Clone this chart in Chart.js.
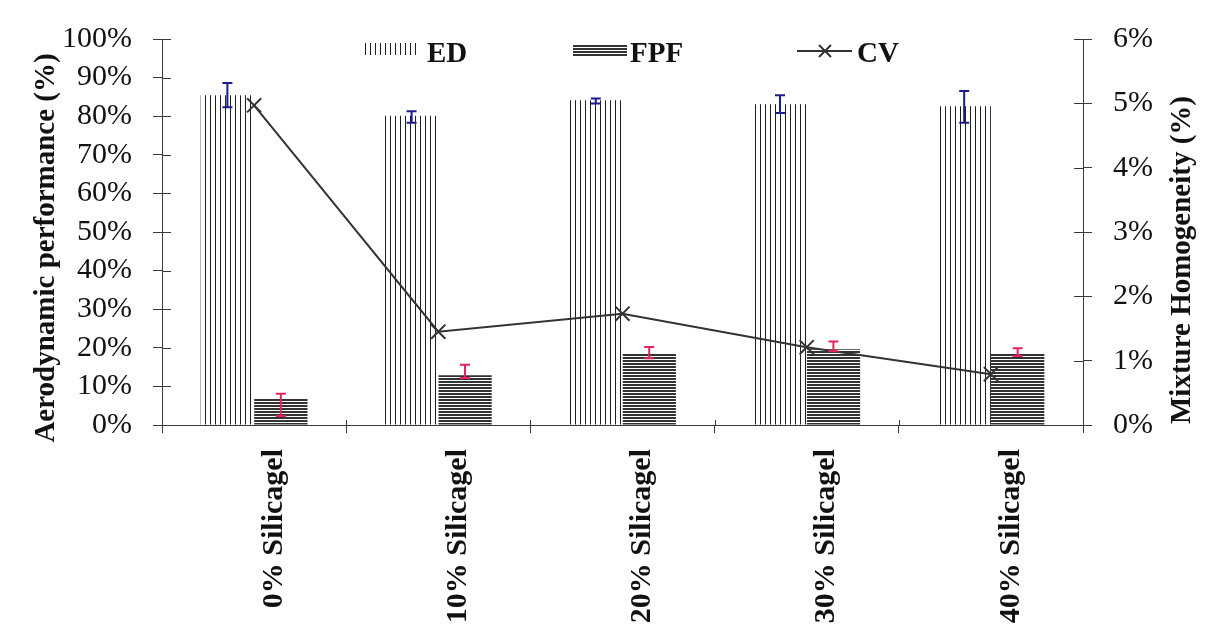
<!DOCTYPE html>
<html>
<head>
<meta charset="utf-8">
<script src="https://cdn.jsdelivr.net/npm/chart.js@4.4.1/dist/chart.umd.min.js"></script>
<style>
  html, body { margin: 0; padding: 0; background: #fff; }
  #wrap { width: 1208px; height: 628px; }
</style>
</head>
<body>
<div id="wrap"><canvas id="chart"></canvas></div>
<script>
const categories = ['0% Silicagel', '10% Silicagel', '20% Silicagel', '30% Silicagel', '40% Silicagel'];
const edValues = [85.4, 80.1, 84.1, 83.1, 82.6];
const edErrLow = [82.3, 78.3, 83.3, 80.8, 78.3];
const edErrHigh = [88.6, 81.3, 84.6, 85.4, 86.5];
const fpfValues = [6.8, 12.9, 18.5, 19.6, 18.4];
const fpfErrLow = [2.3, 12.2, 17.3, 19.1, 17.9];
const fpfErrHigh = [8.1, 15.6, 20.2, 21.6, 19.9];
const cvValues = [4.97, 1.45, 1.73, 1.21, 0.79];

const SERIF = "'Liberation Serif', 'Times New Roman', serif";
const AXIS = '#3a3a3a';

function makePattern(w, h, draw) {
    var c = document.createElement('canvas');
    c.width = w; c.height = h;
    var g = c.getContext('2d');
    g.fillStyle = '#fff';
    g.fillRect(0, 0, w, h);
    draw(g);
    return g.createPattern(c, 'repeat');
}

// vertical hatching for ED, dense horizontal lines for FPF
var edPattern = makePattern(5, 1, function(g) { g.fillStyle = '#1e1e1e'; g.fillRect(0, 0, 1, 1); });
var fpfPattern = makePattern(1, 3, function(g) { g.fillStyle = '#333'; g.fillRect(0, 0, 1, 2); });

const decorPlugin = {
    id: 'decor',
    afterDatasetsDraw: function(chart) {
        var ctx = chart.ctx, y = chart.scales.y;
        var sets = [[0, edErrLow, edErrHigh, '#1b1b8c'], [1, fpfErrLow, fpfErrHigh, '#e6245a']];
        sets.forEach(function(s) {
            var meta = chart.getDatasetMeta(s[0]);
            ctx.save();
            ctx.strokeStyle = s[3];
            ctx.lineWidth = 2;
            meta.data.forEach(function(bar, j) {
                var x = bar.x, y1 = y.getPixelForValue(s[1][j]), y2 = y.getPixelForValue(s[2][j]);
                ctx.beginPath();
                ctx.moveTo(x, y1); ctx.lineTo(x, y2);
                ctx.moveTo(x - 5, y1); ctx.lineTo(x + 5, y1);
                ctx.moveTo(x - 5, y2); ctx.lineTo(x + 5, y2);
                ctx.stroke();
            });
            ctx.restore();
        });
    },
    afterDraw: function(chart) {
        var ctx = chart.ctx, area = chart.chartArea;
        var y = chart.scales.y, y1 = chart.scales.y1, x = chart.scales.x;
        ctx.save();
        // inner halves of the crossing tick marks
        ctx.strokeStyle = AXIS;
        ctx.lineWidth = 1;
        ctx.beginPath();
        y.ticks.forEach(function(t) {
            var py = Math.round(y.getPixelForValue(t.value)) + 0.5;
            ctx.moveTo(area.left, py); ctx.lineTo(area.left + 9, py);
        });
        y1.ticks.forEach(function(t) {
            var py = Math.round(y1.getPixelForValue(t.value)) + 0.5;
            ctx.moveTo(area.right - 9, py); ctx.lineTo(area.right, py);
        });
        for (var i = 1; i < categories.length; i++) {
            var px = Math.round((x.getPixelForValue(i - 1) + x.getPixelForValue(i)) / 2) + 0.5;
            ctx.moveTo(px, area.bottom); ctx.lineTo(px, area.bottom - 5);
        }
        ctx.stroke();

        // axis titles
        ctx.fillStyle = '#111';
        ctx.font = 'bold 29px ' + SERIF;
        ctx.textAlign = 'center';
        ctx.textBaseline = 'middle';
        ctx.save();
        ctx.translate(47, 248);
        ctx.rotate(-Math.PI / 2);
        ctx.fillText('Aerodynamic performance (%)', 0, 0);
        ctx.restore();
        ctx.save();
        ctx.translate(1183, 260);
        ctx.rotate(-Math.PI / 2);
        ctx.fillText('Mixture Homogeneity (%)', 0, 0);
        ctx.restore();

        // legend
        ctx.fillStyle = edPattern;
        ctx.fillRect(365, 43, 55, 12);
        ctx.fillStyle = fpfPattern;
        ctx.fillRect(573, 45, 54, 11);
        ctx.strokeStyle = '#333';
        ctx.lineWidth = 2;
        ctx.beginPath();
        ctx.moveTo(797, 51); ctx.lineTo(852, 51);
        ctx.moveTo(819, 45); ctx.lineTo(831, 57);
        ctx.moveTo(831, 45); ctx.lineTo(819, 57);
        ctx.stroke();
        ctx.fillStyle = '#111';
        ctx.textAlign = 'left';
        ctx.textBaseline = 'alphabetic';
        ctx.fillText('ED', 427, 62);
        ctx.fillText('FPF', 630, 62);
        ctx.fillText('CV', 857, 62);
        ctx.restore();
    }
};

new Chart(document.getElementById('chart'), {
    data: {
        labels: categories,
        datasets: [{
            type: 'bar',
            label: 'ED',
            data: edValues,
            backgroundColor: edPattern,
            borderWidth: 0,
            yAxisID: 'y',
            categoryPercentage: 0.58,
            barPercentage: 1.0,
            order: 2
        }, {
            type: 'bar',
            label: 'FPF',
            data: fpfValues,
            backgroundColor: fpfPattern,
            borderWidth: 0,
            yAxisID: 'y',
            categoryPercentage: 0.58,
            barPercentage: 1.0,
            order: 2
        }, {
            type: 'line',
            label: 'CV',
            data: cvValues,
            yAxisID: 'y1',
            borderColor: '#333',
            borderWidth: 2,
            tension: 0,
            pointStyle: 'crossRot',
            pointRadius: 10,
            pointBorderWidth: 2,
            pointBorderColor: '#333',
            order: 1
        }]
    },
    options: {
        responsive: true,
        maintainAspectRatio: false,
        animation: false,
        layout: { padding: { top: 29, left: 0, right: 0, bottom: 0 } },
        plugins: {
            legend: { display: false },
            tooltip: { enabled: false }
        },
        scales: {
            x: {
                offset: true,
                grid: { offset: true, drawOnChartArea: false, tickLength: 8, color: AXIS },
                border: { color: AXIS },
                ticks: {
                    maxRotation: 90,
                    minRotation: 90,
                    autoSkip: false,
                    labelOffset: 20,
                    padding: 16,
                    color: '#111',
                    font: { family: SERIF, size: 30, weight: 'bold' }
                },
                afterFit: function(s) { s.height = 203; }
            },
            y: {
                position: 'left',
                min: 0,
                max: 100,
                ticks: {
                    stepSize: 10,
                    autoSkip: false,
                    padding: 21,
                    color: '#111',
                    font: { family: SERIF, size: 30 },
                    callback: function(v) { return v + '%'; }
                },
                grid: { drawOnChartArea: false, tickLength: 9, color: AXIS },
                border: { color: AXIS },
                afterFit: function(s) { s.width = 162; }
            },
            y1: {
                position: 'right',
                min: 0,
                max: 6,
                ticks: {
                    stepSize: 1,
                    autoSkip: false,
                    padding: 21,
                    color: '#111',
                    font: { family: SERIF, size: 30 },
                    callback: function(v) { return v + '%'; }
                },
                grid: { drawOnChartArea: false, tickLength: 9, color: AXIS },
                border: { color: AXIS },
                afterFit: function(s) { s.width = 125; }
            }
        }
    },
    plugins: [decorPlugin]
});
</script>
</body>
</html>
